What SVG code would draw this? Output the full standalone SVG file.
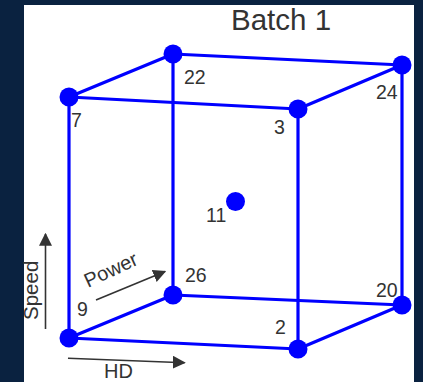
<svg xmlns="http://www.w3.org/2000/svg" width="423" height="382" viewBox="0 0 423 382">
<defs>
<style>
.lbl{font-family:"Liberation Sans",Arial,sans-serif;font-size:19.5px;fill:#333333}
.edge{stroke:#0000ff;stroke-width:3.2;fill:none;stroke-linecap:round}
.node{fill:#0000ff}
.ax{stroke:#333333;stroke-width:1.6;fill:none}
</style>
<marker id="ahb" viewBox="0 0 10 10" refX="9" refY="5" markerWidth="13" markerHeight="13" markerUnits="userSpaceOnUse" orient="auto">
<path d="M0,0 L10,5 L0,10 z" fill="#333333"/>
</marker>
</defs>
<rect x="0" y="0" width="423" height="382" fill="#0a2240"/>
<rect x="24" y="5" width="390" height="377" fill="#ffffff"/>
<text x="231" y="30" class="lbl" style="font-size:29.5px">Batch 1</text>
<g id="connectors">
<line class="edge" x1="69" y1="97" x2="173" y2="54"/>
<line class="edge" x1="173" y1="54" x2="402" y2="65"/>
<line class="edge" x1="402" y1="65" x2="298" y2="109"/>
<line class="edge" x1="298" y1="109" x2="69" y2="97"/>
<line class="edge" x1="69" y1="338" x2="173" y2="295"/>
<line class="edge" x1="173" y1="295" x2="402" y2="305"/>
<line class="edge" x1="402" y1="305" x2="298" y2="349"/>
<line class="edge" x1="298" y1="349" x2="69" y2="338"/>
<line class="edge" x1="69" y1="97" x2="69" y2="338"/>
<line class="edge" x1="173" y1="54" x2="173" y2="295"/>
<line class="edge" x1="298" y1="109" x2="298" y2="349"/>
<line class="edge" x1="402" y1="65" x2="402" y2="305"/>
</g>
<g id="n22"><circle class="node" cx="173" cy="54" r="9.5"/><text class="lbl" x="184" y="84">22</text></g>
<g id="n24"><circle class="node" cx="402" cy="65" r="9.5"/><text class="lbl" x="376" y="99">24</text></g>
<g id="n7"><circle class="node" cx="69" cy="97" r="9.5"/><text class="lbl" x="71" y="127">7</text></g>
<g id="n3"><circle class="node" cx="298" cy="109" r="9.5"/><text class="lbl" x="274" y="134">3</text></g>
<g id="n11"><circle class="node" cx="235.5" cy="201.5" r="9.5"/><text class="lbl" x="206" y="222">11</text></g>
<g id="n26"><circle class="node" cx="173" cy="295" r="9.5"/><text class="lbl" x="185" y="282">26</text></g>
<g id="n20"><circle class="node" cx="402" cy="305" r="9.5"/><text class="lbl" x="376" y="297">20</text></g>
<g id="n9"><circle class="node" cx="69" cy="338" r="9.5"/><text class="lbl" x="77" y="316">9</text></g>
<g id="n2"><circle class="node" cx="298" cy="349" r="9.5"/><text class="lbl" x="275" y="334">2</text></g>
<g id="axes">
<line class="ax" x1="45.5" y1="329" x2="45.5" y2="234" marker-end="url(#ahb)"/>
<text class="lbl" transform="translate(38,320) rotate(-90)" style="font-size:20.5px">Speed</text>
<line class="ax" x1="96" y1="300" x2="165" y2="271.5" marker-end="url(#ahb)"/>
<text class="lbl" transform="translate(88,288) rotate(-25)" style="font-size:20px">Power</text>
<line class="ax" x1="68" y1="358.3" x2="184.5" y2="362.7" marker-end="url(#ahb)"/>
<text class="lbl" x="104" y="378" style="font-size:20px">HD</text>
</g>
</svg>
